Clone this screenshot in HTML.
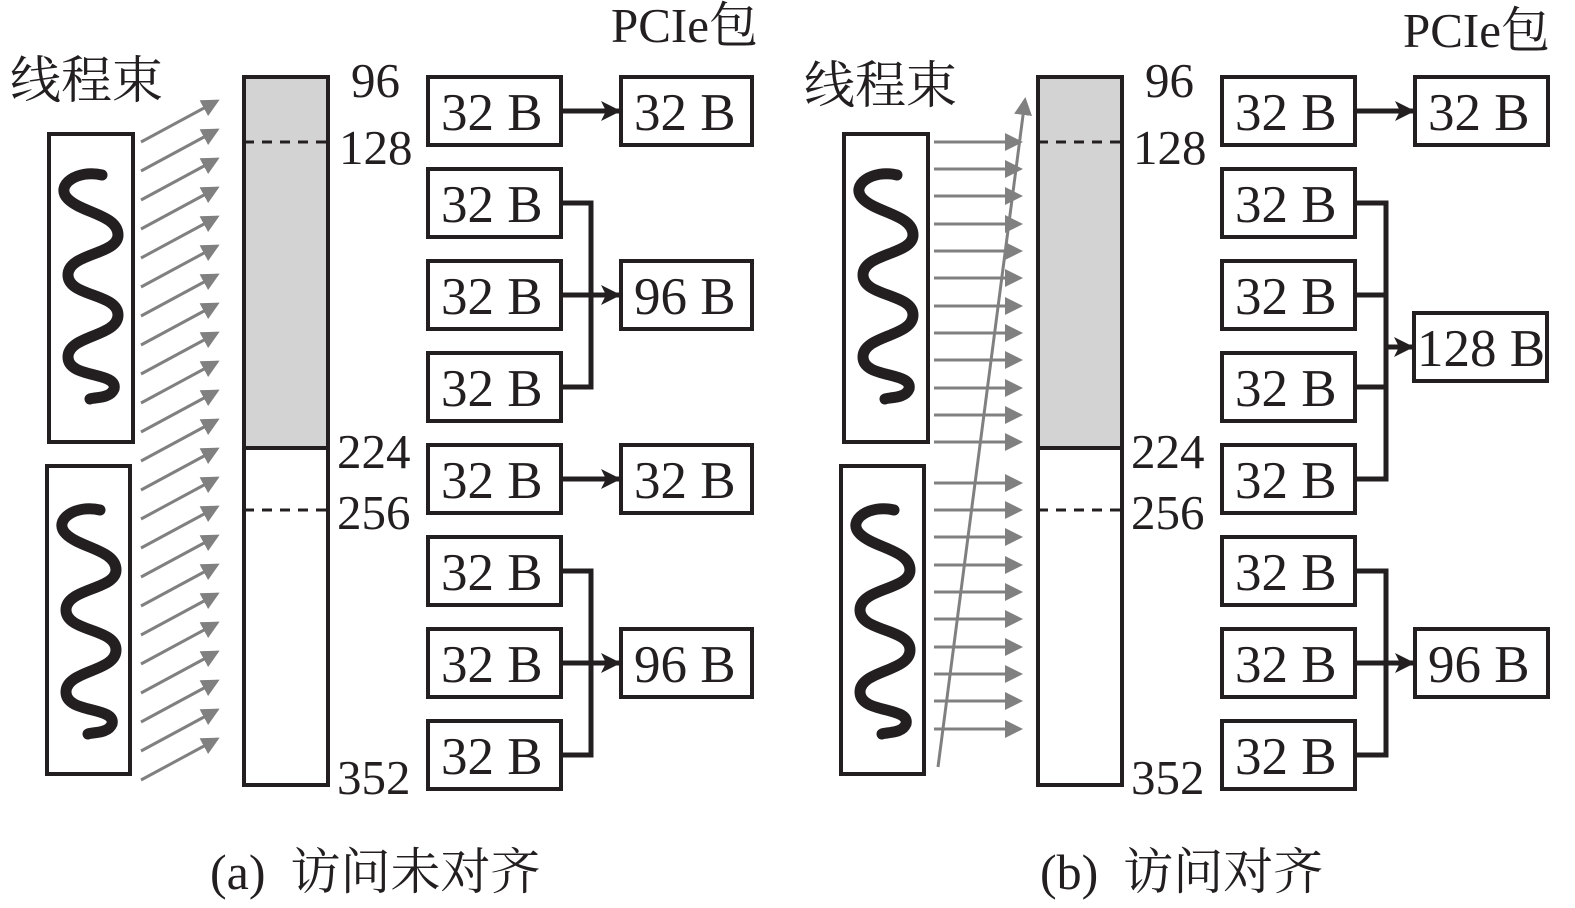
<!DOCTYPE html>
<html><head><meta charset="utf-8"><style>
html,body{margin:0;padding:0;background:#fff;}
svg{display:block;}
svg text{font-family:"Liberation Serif","Noto Serif CJK SC",serif;fill:#231f20;}
</style></head><body>
<svg width="1575" height="908" viewBox="0 0 1575 908" xmlns="http://www.w3.org/2000/svg">
<defs>
<marker id="ga" markerWidth="6" markerHeight="6" refX="5" refY="3" orient="auto" markerUnits="strokeWidth"><path d="M0,0 L6,3 L0,6 z" fill="#808080"/></marker>
<marker id="ba" markerWidth="4" markerHeight="4" refX="3.6" refY="2" orient="auto" markerUnits="strokeWidth"><path d="M0,0 L4,2 L0,4 L1,2 z" fill="#231f20"/></marker>
<path id="sq" d="M34,0 C10,-6 -14,10 0,24 C14,38 50,40 50,60 C50,80 0,78 0,100 C0,122 50,118 50,140 C50,162 0,160 0,182 C0,204 50,196 46,214 C42,224 26,222 22,224" fill="none" stroke="#231f20" stroke-width="11" stroke-linecap="round"/>
</defs>

<!-- ===== Panel (a) ===== -->
<text x="10" y="98" font-size="51">线程束</text>
<text x="611" y="42" font-size="49">PCIe包</text>
<rect x="49" y="134" width="84" height="308" fill="none" stroke="#231f20" stroke-width="4"/>
<rect x="47" y="466" width="83" height="308" fill="none" stroke="#231f20" stroke-width="4"/>
<use href="#sq" x="68" y="175"/>
<use href="#sq" x="66" y="510"/>
<g stroke="#808080" stroke-width="3" marker-end="url(#ga)">
<line x1="141" y1="142" x2="217" y2="101"/><line x1="141" y1="171" x2="217" y2="130"/><line x1="141" y1="200" x2="217" y2="159"/><line x1="141" y1="229" x2="217" y2="188"/><line x1="141" y1="258" x2="217" y2="217"/><line x1="141" y1="287" x2="217" y2="246"/><line x1="141" y1="316" x2="217" y2="275"/><line x1="141" y1="345" x2="217" y2="304"/><line x1="141" y1="374" x2="217" y2="333"/><line x1="141" y1="403" x2="217" y2="362"/><line x1="141" y1="432" x2="217" y2="391"/><line x1="141" y1="461" x2="217" y2="420"/><line x1="141" y1="490" x2="217" y2="449"/><line x1="141" y1="519" x2="217" y2="478"/><line x1="141" y1="548" x2="217" y2="507"/><line x1="141" y1="577" x2="217" y2="536"/><line x1="141" y1="606" x2="217" y2="565"/><line x1="141" y1="635" x2="217" y2="594"/><line x1="141" y1="664" x2="217" y2="623"/><line x1="141" y1="693" x2="217" y2="652"/><line x1="141" y1="722" x2="217" y2="681"/><line x1="141" y1="751" x2="217" y2="710"/><line x1="141" y1="780" x2="217" y2="739"/>
</g>
<rect x="244" y="77" width="84" height="371" fill="#d3d3d3"/>
<rect x="244" y="77" width="84" height="708" fill="none" stroke="#231f20" stroke-width="4"/>
<line x1="244" y1="448" x2="328" y2="448" stroke="#231f20" stroke-width="4"/>
<line x1="244" y1="142" x2="328" y2="142" stroke="#231f20" stroke-width="3" stroke-dasharray="10,8"/>
<line x1="244" y1="510" x2="328" y2="510" stroke="#231f20" stroke-width="3" stroke-dasharray="10,8"/>
<g font-size="49">
<text x="351" y="97">96</text><text x="339" y="164">128</text><text x="337" y="468">224</text><text x="337" y="529">256</text><text x="337" y="794">352</text>
</g>
<g fill="none" stroke="#231f20" stroke-width="4">
<rect x="428" y="77" width="133" height="68"/><rect x="428" y="169" width="133" height="68"/><rect x="428" y="261" width="133" height="68"/><rect x="428" y="353" width="133" height="68"/><rect x="428" y="445" width="133" height="68"/><rect x="428" y="537" width="133" height="68"/><rect x="428" y="629" width="133" height="68"/><rect x="428" y="721" width="133" height="68"/>
<rect x="621" y="77" width="131" height="68"/><rect x="621" y="261" width="131" height="68"/><rect x="621" y="445" width="131" height="68"/><rect x="621" y="629" width="131" height="68"/>
</g>
<g font-size="53">
<text x="441" y="130">32 B</text><text x="441" y="222">32 B</text><text x="441" y="314">32 B</text><text x="441" y="406">32 B</text><text x="441" y="498">32 B</text><text x="441" y="590">32 B</text><text x="441" y="682">32 B</text><text x="441" y="774">32 B</text>
<text x="634" y="130">32 B</text><text x="634" y="314">96 B</text><text x="634" y="498">32 B</text><text x="634" y="682">96 B</text>
</g>
<g fill="none" stroke="#231f20" stroke-width="5">
<polyline points="561,203 591,203 591,387 561,387"/><polyline points="561,571 591,571 591,755 561,755"/>
</g>
<g stroke="#231f20" stroke-width="5" marker-end="url(#ba)">
<line x1="561" y1="111" x2="619" y2="111"/><line x1="561" y1="295" x2="619" y2="295"/><line x1="561" y1="479" x2="619" y2="479"/><line x1="561" y1="663" x2="619" y2="663"/>
</g>
<text x="210" y="889" font-size="50" xml:space="preserve">(a)  访问未对齐</text>

<!-- ===== Panel (b) ===== -->
<text x="804" y="103" font-size="51">线程束</text>
<text x="1403" y="47" font-size="49">PCIe包</text>
<rect x="844" y="134" width="84" height="308" fill="none" stroke="#231f20" stroke-width="4"/>
<rect x="841" y="466" width="83" height="308" fill="none" stroke="#231f20" stroke-width="4"/>
<use href="#sq" x="863" y="175"/>
<use href="#sq" x="860" y="510"/>
<g stroke="#808080" stroke-width="3" marker-end="url(#ga)">
<line x1="934" y1="142" x2="1020" y2="142"/><line x1="934" y1="169" x2="1020" y2="169"/><line x1="934" y1="196" x2="1020" y2="196"/><line x1="934" y1="224" x2="1020" y2="224"/><line x1="934" y1="251" x2="1020" y2="251"/><line x1="934" y1="278" x2="1020" y2="278"/><line x1="934" y1="306" x2="1020" y2="306"/><line x1="934" y1="333" x2="1020" y2="333"/><line x1="934" y1="360" x2="1020" y2="360"/><line x1="934" y1="388" x2="1020" y2="388"/><line x1="934" y1="415" x2="1020" y2="415"/><line x1="934" y1="442" x2="1020" y2="442"/>
<line x1="934" y1="483" x2="1020" y2="483"/><line x1="934" y1="510" x2="1020" y2="510"/><line x1="934" y1="537" x2="1020" y2="537"/><line x1="934" y1="565" x2="1020" y2="565"/><line x1="934" y1="592" x2="1020" y2="592"/><line x1="934" y1="619" x2="1020" y2="619"/><line x1="934" y1="647" x2="1020" y2="647"/><line x1="934" y1="674" x2="1020" y2="674"/><line x1="934" y1="701" x2="1020" y2="701"/><line x1="934" y1="729" x2="1020" y2="729"/>
<line x1="938" y1="767" x2="1025" y2="100"/>
</g>
<rect x="1038" y="77" width="84" height="371" fill="#d3d3d3"/>
<rect x="1038" y="77" width="84" height="708" fill="none" stroke="#231f20" stroke-width="4"/>
<line x1="1038" y1="448" x2="1122" y2="448" stroke="#231f20" stroke-width="4"/>
<line x1="1038" y1="142" x2="1122" y2="142" stroke="#231f20" stroke-width="3" stroke-dasharray="10,8"/>
<line x1="1038" y1="510" x2="1122" y2="510" stroke="#231f20" stroke-width="3" stroke-dasharray="10,8"/>
<g font-size="49">
<text x="1145" y="97">96</text><text x="1133" y="164">128</text><text x="1131" y="468">224</text><text x="1131" y="529">256</text><text x="1131" y="794">352</text>
</g>
<g fill="none" stroke="#231f20" stroke-width="4">
<rect x="1222" y="77" width="133" height="68"/><rect x="1222" y="169" width="133" height="68"/><rect x="1222" y="261" width="133" height="68"/><rect x="1222" y="353" width="133" height="68"/><rect x="1222" y="445" width="133" height="68"/><rect x="1222" y="537" width="133" height="68"/><rect x="1222" y="629" width="133" height="68"/><rect x="1222" y="721" width="133" height="68"/>
<rect x="1415" y="77" width="133" height="68"/><rect x="1414" y="313" width="133" height="68"/><rect x="1415" y="629" width="133" height="68"/>
</g>
<g font-size="53">
<text x="1235" y="130">32 B</text><text x="1235" y="222">32 B</text><text x="1235" y="314">32 B</text><text x="1235" y="406">32 B</text><text x="1235" y="498">32 B</text><text x="1235" y="590">32 B</text><text x="1235" y="682">32 B</text><text x="1235" y="774">32 B</text>
<text x="1428" y="130">32 B</text><text x="1417" y="366">128 B</text><text x="1428" y="682">96 B</text>
</g>
<g fill="none" stroke="#231f20" stroke-width="5">
<polyline points="1355,203 1386,203 1386,479 1355,479"/><line x1="1355" y1="295" x2="1386" y2="295"/><line x1="1355" y1="387" x2="1386" y2="387"/>
<polyline points="1355,571 1386,571 1386,755 1355,755"/>
</g>
<g stroke="#231f20" stroke-width="5" marker-end="url(#ba)">
<line x1="1355" y1="111" x2="1413" y2="111"/><line x1="1386" y1="347" x2="1412" y2="347"/><line x1="1355" y1="663" x2="1413" y2="663"/>
</g>
<text x="1040" y="889" font-size="50" xml:space="preserve">(b)  访问对齐</text>
</svg>
</body></html>
